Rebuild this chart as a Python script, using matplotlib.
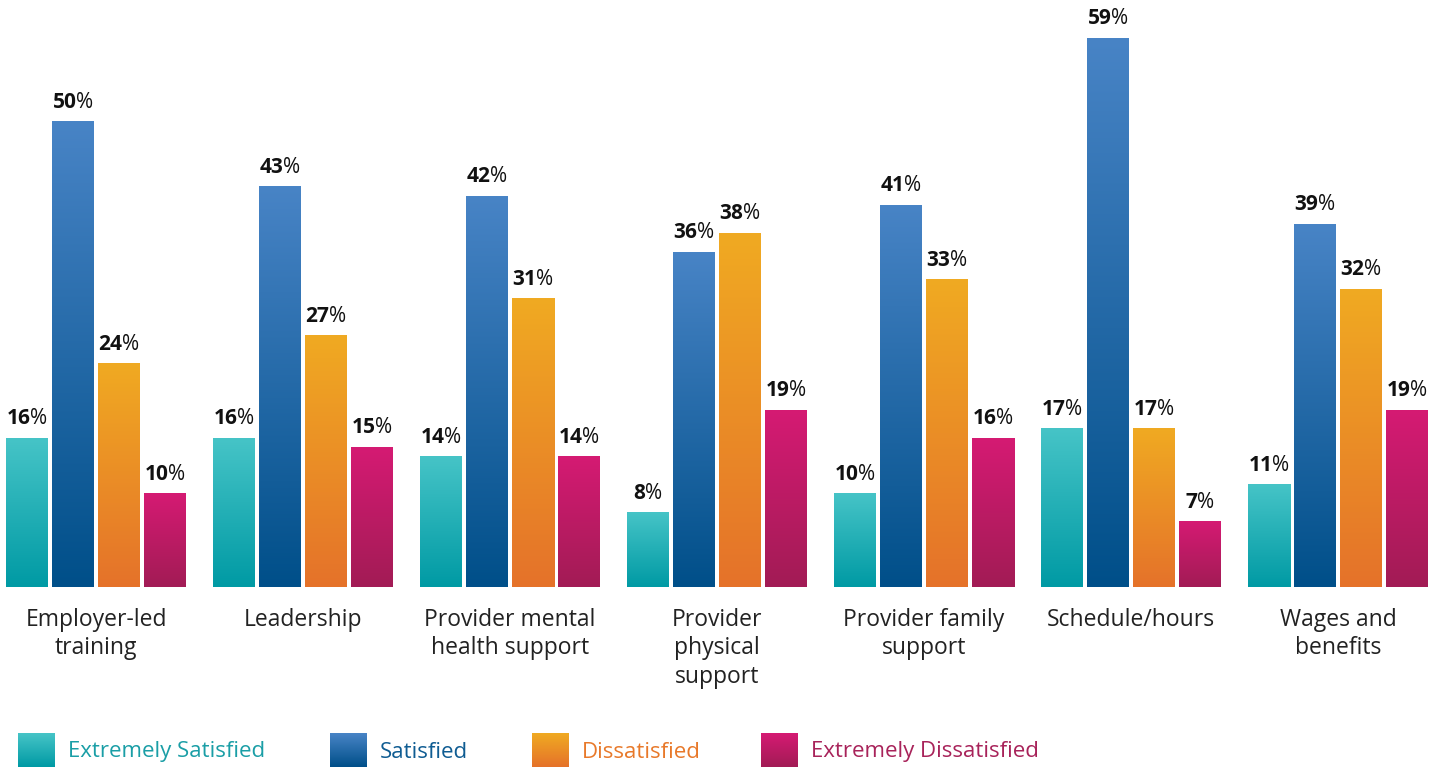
import numpy as np
import matplotlib
matplotlib.use("Agg")
import matplotlib.pyplot as plt
from matplotlib.colors import LinearSegmentedColormap

categories = ["Employer-led\ntraining", "Leadership", "Provider mental\nhealth support",
              "Provider\nphysical\nsupport", "Provider family\nsupport", "Schedule/hours",
              "Wages and\nbenefits"]
series_names = ["Extremely Satisfied", "Satisfied", "Dissatisfied", "Extremely Dissatisfied"]
extremely_satisfied = [16, 16, 14, 8, 10, 17, 11]
satisfied = [50, 43, 42, 36, 41, 59, 39]
dissatisfied = [24, 27, 31, 38, 33, 17, 32]
extremely_dissatisfied = [10, 15, 14, 19, 16, 7, 19]
series = [extremely_satisfied, satisfied, dissatisfied, extremely_dissatisfied]

tops = ["#46c4c7", "#4884c6", "#f0aa22", "#d51a73"]
bottoms = ["#009aa4", "#004f89", "#e5722a", "#a21c55"]
text_cols = ["#1a9ea6", "#0f5c92", "#e8792a", "#a8235a"]

plt.rcParams['font.family'] = ['Open Sans', 'DejaVu Sans']
plt.rcParams['mathtext.fontset'] = 'custom'
plt.rcParams['mathtext.bf'] = 'Open Sans:bold'
plt.rcParams['mathtext.rm'] = 'Open Sans'

W, H = 1440, 768
fig = plt.figure(figsize=(W / 100, H / 100), dpi=100)
base = 587
ax = fig.add_axes([0, 1 - base / H, 1, base / H])
ax.axis('off')

spacing = 207.0
c0 = 96.0
step = 46 / spacing
bw = 42 / spacing
px_per = (base - 38) / 59.0
ymax = base / px_per
x = np.arange(len(categories))

for s, vals in enumerate(series):
    cmap = LinearSegmentedColormap.from_list("g%d" % s, [bottoms[s], tops[s]])
    grad = np.linspace(0, 1, 256).reshape(-1, 1)
    for i, v in enumerate(vals):
        xc = x[i] + (s - 1.5) * step
        ax.imshow(grad, extent=[xc - bw / 2, xc + bw / 2, 0, v], origin='lower',
                  aspect='auto', cmap=cmap, interpolation='bilinear', zorder=2)
        ax.text(xc, v + 9 / px_per, r"$\mathbf{%d}$%%" % v, ha='center', va='bottom',
                fontsize=15, color='#111111')

ax.set_xlim(-c0 / spacing, (W - c0) / spacing)
ax.set_ylim(0, ymax)

for i, c in enumerate(categories):
    fig.text((c0 + spacing * i) / W, 1 - 608 / H, c, ha='center', va='top',
             fontsize=16.5, color='#222222', linespacing=1.25)

# legend
leg_x = [18, 330, 532, 761]
for s in range(4):
    lax = fig.add_axes([leg_x[s] / W, 1 - 767 / H, 37 / W, 34 / H])
    cmap = LinearSegmentedColormap.from_list("l%d" % s, [bottoms[s], tops[s]])
    lax.imshow(np.linspace(0, 1, 64).reshape(-1, 1), origin='lower', aspect='auto',
               cmap=cmap, interpolation='bilinear')
    lax.axis('off')
    fig.text((leg_x[s] + 50) / W, 1 - 752 / H, series_names[s], ha='left', va='center',
             fontsize=16, color=text_cols[s])

fig.savefig("out.png", dpi=100)
